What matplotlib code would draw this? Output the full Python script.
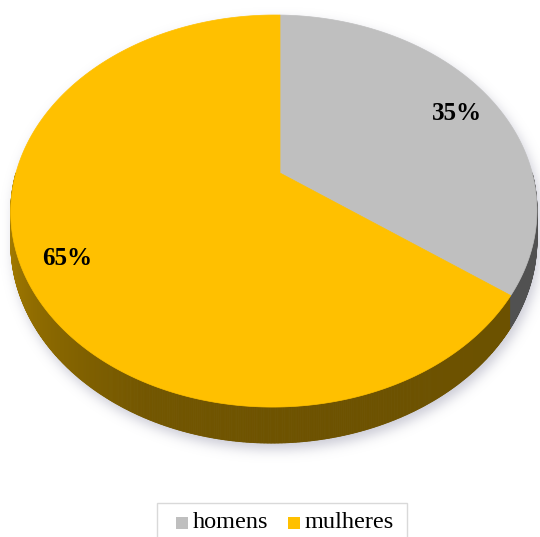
import numpy as np
import matplotlib.pyplot as plt
from matplotlib.path import Path
from matplotlib.patches import Polygon, Rectangle
from matplotlib.collections import PolyCollection
from matplotlib.colors import to_rgb

labels = ["homens", "mulheres"]
shares = [35, 65]
colors = ["#BFBFBF", "#FFC000"]

W, H = 540, 537
# perspective of the tilted disc (pixel space)
CX, CY = 280, 173
R, RK, A, B, Z = 258, 188.6, 0.194, 0.023, 29


def proj(theta, r=1.0, z=0.0):
    x = r * np.cos(theta)
    y = r * np.sin(theta)
    w = 1 + A * y + B * x
    return CX + R * x / w, CY - RK * y / w + Z * z / w


fig = plt.figure(figsize=(5.4, 5.37), dpi=100)
ax = fig.add_axes([0, 0, 1, 1])
ax.set_xlim(0, W)
ax.set_ylim(H, 0)
ax.axis("off")

# slice edges, clockwise from 12 o'clock
edges = np.deg2rad(90 - np.concatenate([[0], np.cumsum(shares)]) * 3.6)

# --- soft shadow ---
full = np.linspace(0, 2 * np.pi, 400)
gx, gy = np.meshgrid(np.arange(W) + 0.5, np.arange(H) + 0.5)
pts = np.column_stack([gx.ravel(), gy.ravel()])
mask = np.zeros(W * H, dtype=bool)
for z in (0.0, 1.0):
    u, v = proj(full, z=z)
    mask |= Path(np.column_stack([u + 3, v + 6])).contains_points(pts)
mask = mask.reshape(H, W).astype(float)
k = np.exp(-0.5 * (np.arange(-18, 19) / 6.0) ** 2)
k /= k.sum()
blur = np.apply_along_axis(lambda r: np.convolve(r, k, mode="same"), 1, mask)
blur = np.apply_along_axis(lambda c: np.convolve(c, k, mode="same"), 0, blur)
shadow = np.zeros((H, W, 4))
shadow[..., :3] = (0.62, 0.62, 0.70)
shadow[..., 3] = blur * 0.55
ax.imshow(shadow, extent=(0, W, H, 0), origin="upper", zorder=1)

# --- side wall ---
t = np.linspace(np.pi, 2 * np.pi, 721)
bright = np.interp(np.rad2deg(t), [180, 195, 215, 245, 270, 360],
                   [0.60, 0.64, 0.56, 0.45, 0.43, 0.42])
quads, fcols = [], []
for i in range(len(t) - 1):
    a0, a1 = t[i], t[i + 1]
    tm = (a0 + a1) / 2 - 2 * np.pi
    idx = 0 if tm >= edges[1] else 1
    u0, v0 = proj(a0)
    u1, v1 = proj(a1)
    u2, v2 = proj(a1, z=1)
    u3, v3 = proj(a0, z=1)
    quads.append([(u0, v0), (u1, v1), (u2, v2), (u3, v3)])
    fcols.append(tuple(np.array(to_rgb(colors[idx])) * bright[i]))
ax.add_collection(PolyCollection(quads, facecolors=fcols, edgecolors=fcols,
                                 linewidths=0.6, zorder=2))

# --- top face ---
for i, c in enumerate(colors):
    arc = np.linspace(edges[i], edges[i + 1], 300)
    u, v = proj(arc)
    verts = np.vstack([[proj(0, r=0)], np.column_stack([u, v])])
    ax.add_patch(Polygon(verts, closed=True, facecolor=c, edgecolor=c,
                         linewidth=0.5, zorder=3))

# --- percentage labels ---
for i, p in enumerate(shares):
    mid = (edges[i] + edges[i + 1]) / 2
    lu, lv = proj(mid, r=0.84)
    ax.text(lu, lv + 6, f"{p}%", ha="center", va="center", fontsize=18,
            fontweight="bold", family="Liberation Serif", zorder=4)

# --- legend (boxed, cut by the bottom edge) ---
ax.add_patch(Rectangle((157, 503), 250, 40, facecolor="white",
                       edgecolor="#d9d9d9", linewidth=1.0, zorder=5,
                       clip_on=False))
for (sx, tx), lab, c in zip([(176, 193), (288, 305)], labels, colors):
    ax.add_patch(Rectangle((sx, 516.5), 12, 12, facecolor=c,
                           edgecolor="none", zorder=6))
    ax.text(tx, 528, lab, ha="left", va="baseline", fontsize=17.5,
            family="Liberation Serif", zorder=6)

fig.savefig("out.png", dpi=100)
